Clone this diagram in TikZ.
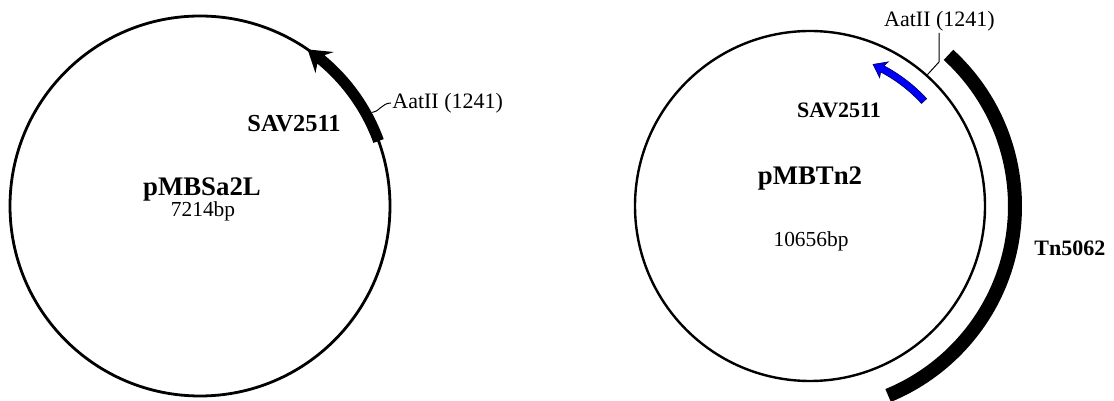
\documentclass[tikz,border=0pt]{standalone}
\usepackage{fontspec}
\setmainfont{Liberation Serif}
\usepackage{xcolor}
\usepackage{tikz}
\definecolor{genblue}{RGB}{0,0,250}
\definecolor{genedge}{RGB}{0,0,90}
\tikzset{
  backbone/.style={draw=black, line width=1.4pt},
  sitetick/.style={draw=black, line width=0.5pt},
  sitelabel/.style={font=\fontsize{11}{13}\selectfont, inner sep=0.5pt},
  genelabel/.style={font=\fontsize{11}{13}\selectfont\bfseries, inner sep=0pt},
  plasmidname/.style={font=\fontsize{13.4}{16}\selectfont\bfseries, inner sep=0pt},
  sizelabel/.style={font=\fontsize{10.7}{13}\selectfont, inner sep=0pt},
  tnband/.style={draw=black, line width=7pt}
}

\begin{document}
\begin{tikzpicture}[x=0.5pt, y=0.5pt]
  \useasboundingbox (0,0) rectangle (1114,401);

  % pMBSa2L map
  \coordinate (leftCenter) at (200,195);
  \draw[backbone] (leftCenter) circle[radius=190];
  \begin{scope}[shift={(leftCenter)}]
    \fill (20:184.5) arc[start angle=20, end angle=50.5, radius=184.5]
      -- (49:176) -- (55.5:190) -- (49:204) -- (50.5:195.5)
      arc[start angle=50.5, end angle=20, radius=195.5] -- cycle;
    \coordinate (leftSite) at (28.5:196);
  \end{scope}
  \node[sitelabel, anchor=west] (leftAat) at (391,298) {AatII (1241)};
  \draw[sitetick] (leftSite) .. controls (379,289) and (382,298) .. (leftAat.west);
  \node[genelabel, font=\fontsize{12.2}{14}\selectfont\bfseries] (leftGene) at (294,277) {SAV2511};
  \node[plasmidname] (leftName) at (202,212) {pMBSa2L};
  \node[sizelabel] (leftSize) at (203,190) {7214bp};

  % pMBTn2 map
  \coordinate (rightCenter) at (810,195);
  \draw[backbone, line width=1.2pt] (rightCenter) circle[radius=175];
  \begin{scope}[shift={(rightCenter)}]
    \filldraw[fill=genblue, draw=genedge, line width=0.3pt]
      (42.6:151.5) arc[start angle=42.6, end angle=62.2, radius=151.5]
      -- (61.5:146) -- (66:155) -- (61.5:164) -- (62.2:158.5)
      arc[start angle=62.2, end angle=42.6, radius=158.5] -- cycle;
    \draw[tnband] (47.5:205) arc[start angle=47.5, end angle=-67.6, radius=205];
    \coordinate (rightSite) at (48.2:176);
  \end{scope}
  \node[sitelabel, anchor=south] (rightAat) at (939.5,368) {AatII (1241)};
  \coordinate (rightBend) at (939,339);
  \draw[sitetick] (rightSite) -- (rightBend) -- (rightBend |- rightAat.south);
  \node[genelabel] (rightGene) at (839,291) {SAV2511};
  \node[plasmidname] (rightName) at (810,223) {pMBTn2};
  \node[sizelabel] (rightSize) at (811,160) {10656bp};
  \node[genelabel, anchor=west] (tnLabel) at (1034,153) {Tn5062};
\end{tikzpicture}
\end{document}
